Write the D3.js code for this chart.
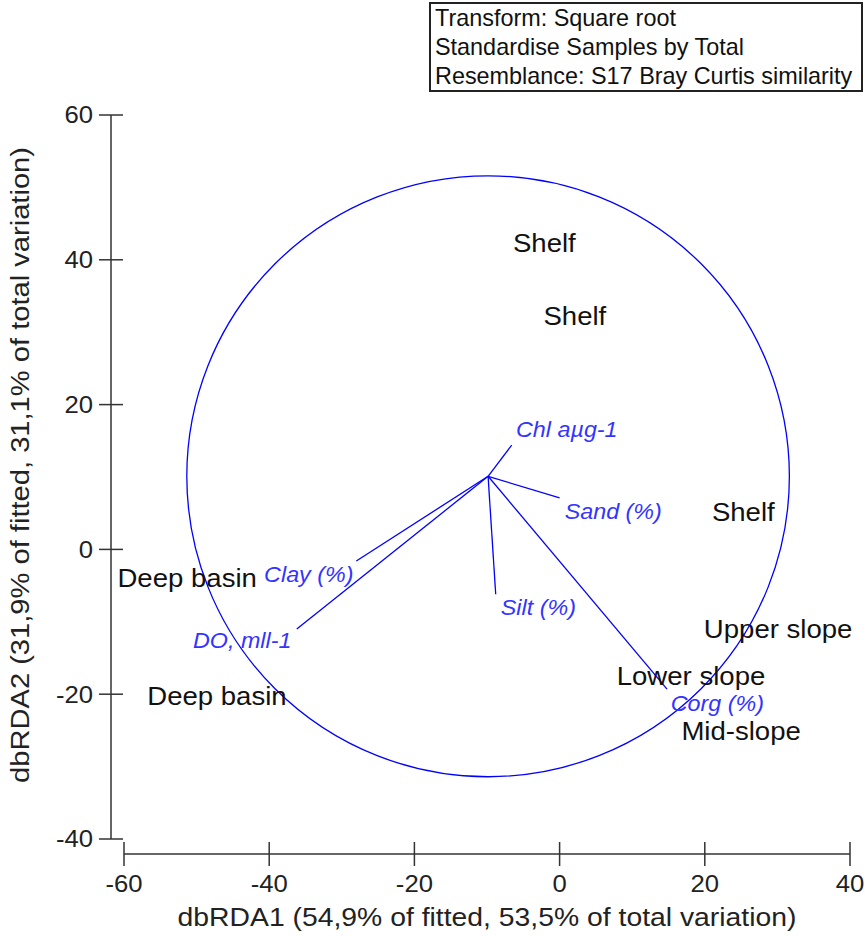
<!doctype html>
<html lang="en">
 <head>
   <meta charset="UTF-8">
   <title>dbRDA</title>
   <script src="https://d3js.org/d3.v7.min.js"></script>
   <style>
     body { margin: 0; background: #fff; }
   </style>
 </head>
 <body>
   <div id="myDiv"></div>

 <script type="text/javascript">

   // sample labels (centroids, in axis units)
   let sampleNames = ["Shelf", "Shelf", "Shelf", "Upper slope", "Lower slope", "Mid-slope", "Deep basin", "Deep basin"];
   let sampleX = [-2.1, 2.1, 25.3, 30.1, 18.1, 25.0, -51.3, -47.2];
   let sampleY = [42.3, 32.2, 5.2, -11.0, -17.5, -25.0, -4.0, -20.3];

   // predictor vectors: end points, and where their labels sit
   let vectorNames = ["Chl a\u00b5g-1", "Sand (%)", "Silt (%)", "Corg (%)", "Clay (%)", "DO, mll-1"];
   let vectorX = [-6.6, 0.0, -8.8, 14.8, -28.0, -36.2];
   let vectorY = [14.4, 7.1, -6.2, -19.3, -1.6, -11.0];
   let labelX = [-6.0, 0.7, -8.1, 15.3, -40.7, -50.5];
   let labelY = [16.6, 5.3, -8.0, -21.2, -3.4, -12.5];

   // origin of the vectors and the correlation circle radius
   let origin = [-9.85, 10.1];
   let circleRadius = 41.5;

   let xTicks = [-60, -40, -20, 0, 20, 40];
   let yTicks = [-40, -20, 0, 20, 40, 60];

   let legendLines = ["Transform: Square root", "Standardise Samples by Total", "Resemblance: S17 Bray Curtis similarity"];

   let font = "'Liberation Sans', Arial, sans-serif";
   let blue = "#0000ff";

   let svg = d3.select("#myDiv").append("svg")
      .attr("width", 867)
      .attr("height", 936);

   let x = d3.scaleLinear().domain([-60, 40]).range([124, 850]);
   let y = d3.scaleLinear().domain([-40, 60]).range([839, 115]);

   // the original lettering runs a little wider than Liberation Sans
   function place(px, py, sx) {
     return "translate(" + px + "," + py + ") scale(" + sx + ",1)";
   }

   // x axis
   let xAxis = svg.append("g").attr("transform", "translate(0,854)");
   xAxis.append("line")
      .attr("x1", x(-60)).attr("x2", x(40))
      .attr("stroke", "#333").attr("stroke-width", 1.5);
   xAxis.selectAll(".tick").data(xTicks).enter().append("line")
      .attr("x1", d => x(d)).attr("x2", d => x(d))
      .attr("y1", -12).attr("y2", 12)
      .attr("stroke", "#333").attr("stroke-width", 1.5);
   xAxis.selectAll("text").data(xTicks).enter().append("text")
      .attr("transform", d => place(x(d), 38, 1.07))
      .attr("text-anchor", "middle")
      .attr("font-family", font)
      .attr("font-size", "24px")
      .attr("fill", "#222")
      .text(d => d);

   // y axis
   let yAxis = svg.append("g").attr("transform", "translate(111,0)");
   yAxis.append("line")
      .attr("y1", y(-40)).attr("y2", y(60))
      .attr("stroke", "#333").attr("stroke-width", 1.5);
   yAxis.selectAll(".tick").data(yTicks).enter().append("line")
      .attr("y1", d => y(d)).attr("y2", d => y(d))
      .attr("x1", -12).attr("x2", 12)
      .attr("stroke", "#333").attr("stroke-width", 1.5);
   yAxis.selectAll("text").data(yTicks).enter().append("text")
      .attr("transform", d => place(-18, y(d), 1.07))
      .attr("dy", "0.35em")
      .attr("text-anchor", "end")
      .attr("font-family", font)
      .attr("font-size", "24px")
      .attr("fill", "#222")
      .text(d => d);

   // axis titles
   svg.append("text")
      .attr("transform", place((x(-60) + x(40)) / 2, 926, 1.09))
      .attr("text-anchor", "middle")
      .attr("font-family", font)
      .attr("font-size", "26px")
      .attr("fill", "#222")
      .text("dbRDA1 (54,9% of fitted, 53,5% of total variation)");

   svg.append("text")
      .attr("transform", "translate(29,465) rotate(-90) scale(1.12,1)")
      .attr("text-anchor", "middle")
      .attr("font-family", font)
      .attr("font-size", "26px")
      .attr("fill", "#222")
      .text("dbRDA2 (31,9% of fitted, 31,1% of total variation)");

   // correlation circle
   svg.append("ellipse")
      .attr("cx", x(origin[0]))
      .attr("cy", y(origin[1]))
      .attr("rx", x(origin[0] + circleRadius) - x(origin[0]))
      .attr("ry", y(origin[1]) - y(origin[1] + circleRadius))
      .attr("fill", "none")
      .attr("stroke", blue)
      .attr("stroke-width", 1.3);

   // vectors
   svg.selectAll(".vec").data(vectorNames).enter().append("line")
      .attr("x1", x(origin[0]))
      .attr("y1", y(origin[1]))
      .attr("x2", (d, i) => x(vectorX[i]))
      .attr("y2", (d, i) => y(vectorY[i]))
      .attr("stroke", blue)
      .attr("stroke-width", 1.3);

   svg.selectAll(".vlab").data(vectorNames).enter().append("text")
      .attr("transform", (d, i) => place(x(labelX[i]), y(labelY[i]), 1.06))
      .attr("dy", "0.35em")
      .attr("font-family", font)
      .attr("font-style", "italic")
      .attr("font-size", "22px")
      .attr("fill", "#3434ff")
      .text(d => d);

   // sample labels
   svg.selectAll(".slab").data(sampleNames).enter().append("text")
      .attr("transform", (d, i) => place(x(sampleX[i]), y(sampleY[i]), 1.06))
      .attr("dy", "0.35em")
      .attr("text-anchor", "middle")
      .attr("font-family", font)
      .attr("font-size", "26px")
      .attr("fill", "#111")
      .text(d => d);

   // info box
   svg.append("rect")
      .attr("x", 430).attr("y", 3)
      .attr("width", 432).attr("height", 88)
      .attr("fill", "#fff")
      .attr("stroke", "#222")
      .attr("stroke-width", 2);
   svg.selectAll(".leg").data(legendLines).enter().append("text")
      .attr("x", 435)
      .attr("y", (d, i) => 26 + i * 29)
      .attr("font-family", font)
      .attr("font-size", "23.4px")
      .attr("fill", "#111")
      .text(d => d);
 </script>
</body>
</html>
